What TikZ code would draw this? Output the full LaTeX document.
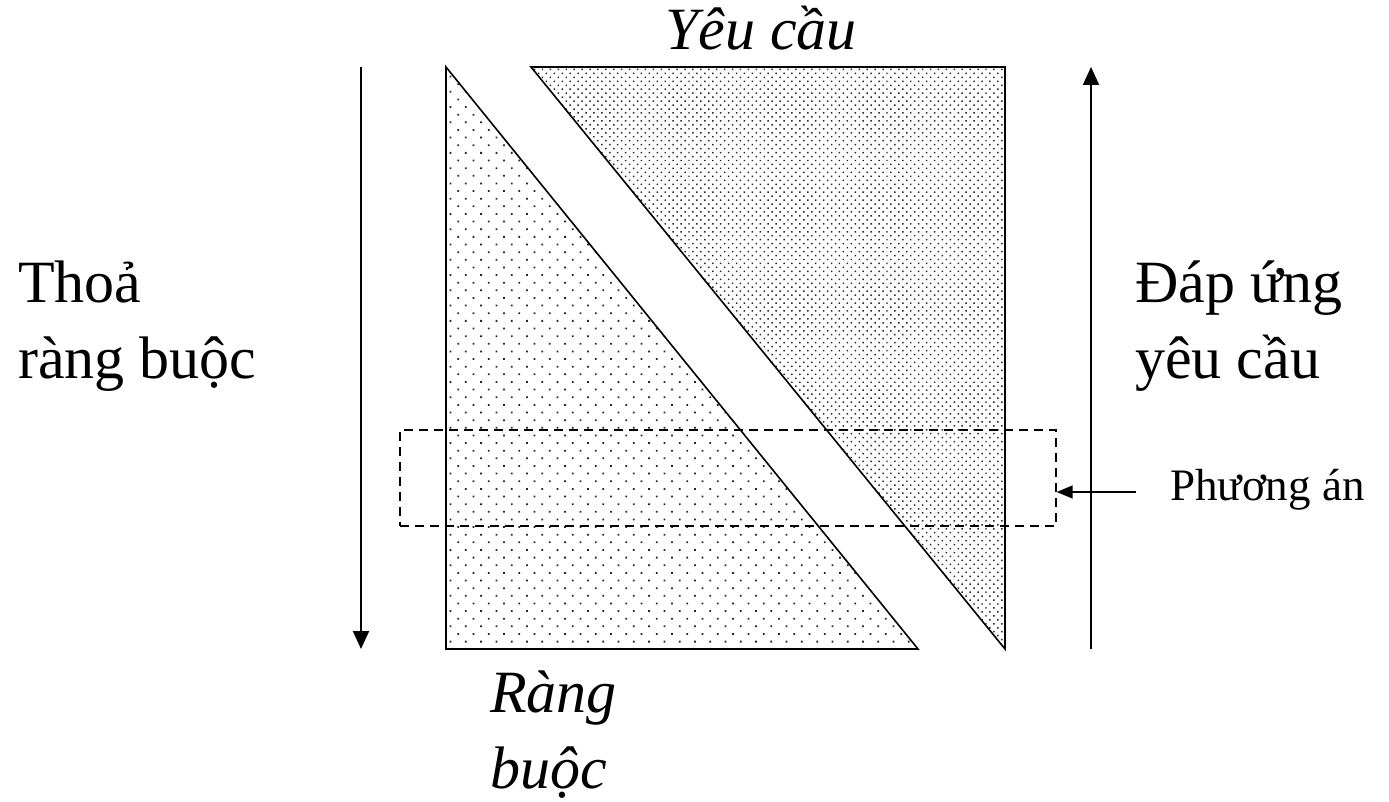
\documentclass[tikz,border=0pt]{standalone}
\usepackage{fontspec}
\setmainfont{Liberation Serif}
\usetikzlibrary{arrows.meta,patterns.meta}

\begin{document}
\begin{tikzpicture}[x=1pt,y=-1pt,
  lbl/.style={inner sep=0pt,align=left,anchor=base west,font=\fontsize{60}{76}\selectfont},
  small/.style={inner sep=0pt,anchor=base west,font=\fontsize{45}{50}\selectfont},
  sparse/.style={draw,line width=1.6pt,pattern={Dots[distance=10.8pt,angle=45,radius=1.25pt]},pattern color=black!85},
  dense/.style={draw,line width=1.6pt,pattern={Dots[distance=5.6pt,angle=45,radius=1.05pt]},pattern color=black!85},
  arr/.style={-{Triangle[length=18pt,width=16pt]},line width=2pt},
  pointer/.style={-{Triangle[length=16pt,width=13pt]},line width=1.6pt},
  dashbox/.style={draw,dashed,dash pattern=on 9pt off 6pt,line width=1.4pt,minimum width=656pt,minimum height=96pt,inner sep=0pt}
]
\useasboundingbox (0,0) rectangle (1389,802);

\coordinate (rbtop) at (446,67);
\coordinate (rbbot) at (446,649);
\coordinate (rbend) at (918,649);
\coordinate (yctop) at (531,67);
\coordinate (yccorner) at (1005,67);
\coordinate (ycbot) at (1005,649);

\fill[sparse] (rbtop) -- (rbbot) -- (rbend) -- cycle;
\fill[dense] (yctop) -- (yccorner) -- (ycbot) -- cycle;

\node[dashbox] (pa) at (728,478) {};

\coordinate (thoa1) at (361,67);
\coordinate (thoa2) at (361,649);
\coordinate (dap1) at (1091,649);
\coordinate (dap2) at (1091,67);
\coordinate (pasrc) at (1136,492);
\draw[arr] (thoa1) -- (thoa2);
\draw[arr] (dap1) -- (dap2);
\draw[pointer] (pasrc) -- (pasrc -| pa.east);

\node[lbl] (thoa) at (18,378) {Thoả\\ràng buộc};
\node[lbl] (dapung) at (1135,378) {Đáp ứng\\yêu cầu};
\node[lbl,font=\fontsize{60}{76}\selectfont\itshape] (yeucau) at (665,50) {Yêu cầu};
\node[lbl,font=\fontsize{60}{76}\selectfont\itshape] (rangbuoc) at (490,788) {Ràng\\buộc};
\node[small] (phuongan) at (1170,500) {Phương án};
\end{tikzpicture}
\end{document}
